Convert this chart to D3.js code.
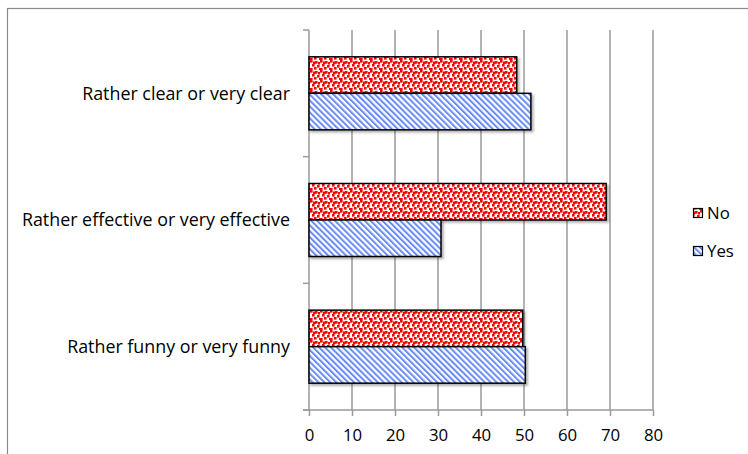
<!DOCTYPE html>
<html><head><meta charset="utf-8">
<script src="https://cdn.jsdelivr.net/npm/d3@7"></script>
<style>body{margin:0;background:#fff}svg{display:block}text{font-family:"Open Sans",sans-serif;fill:#000}</style>
</head><body>
<script>
const categories = ["Rather clear or very clear", "Rather effective or very effective", "Rather funny or very funny"];
const seriesNames = ["No", "Yes"];
const noValues = [48.3, 69.1, 49.7];
const yesValues = [51.6, 30.7, 50.3];
const xTicks = [0, 10, 20, 30, 40, 50, 60, 70, 80];

const W = 748, H = 454;
const FONT = "'Open Sans', sans-serif";
const FS_LABEL = 17.85, FS_TICK = 16.8, FS_LEG = 16.8;
const svg = d3.select("body").append("svg").attr("width", W).attr("height", H);
const defs = svg.append("defs");

// red confetti pattern
const pr = defs.append("pattern").attr("id", "pNo").attr("patternUnits", "userSpaceOnUse")
  .attr("width", 10).attr("height", 10);
pr.append("rect").attr("width", 10).attr("height", 10).attr("fill", "#fff");
[[0,0],[5,1],[2,4],[7,5],[4,7],[9,8],[0,8],[8,2],[3,1.5]].forEach(p =>
  pr.append("rect").attr("x", p[0]).attr("y", p[1]).attr("width", 2.6).attr("height", 2.6).attr("fill", "#f00"));

// blue diagonal stripes (top-left to bottom-right)
const pb = defs.append("pattern").attr("id", "pYes").attr("patternUnits", "userSpaceOnUse")
  .attr("width", 4.2).attr("height", 4.2).attr("patternTransform", "rotate(-45)");
pb.append("rect").attr("width", 4.2).attr("height", 4.2).attr("fill", "#fff");
pb.append("rect").attr("x", 0).attr("width", 2).attr("height", 4.2).attr("fill", "#6a8cf2");

const sh = defs.append("filter").attr("id", "shadow").attr("x", "-5%").attr("y", "-20%").attr("width", "110%").attr("height", "150%");
sh.append("feDropShadow").attr("dx", 2).attr("dy", 2).attr("stdDeviation", 1.2).attr("flood-color", "#000").attr("flood-opacity", 0.3);

// outer frame
svg.append("rect").attr("x", 7.5).attr("y", 8.5).attr("width", 760).attr("height", 460)
  .attr("fill", "none").attr("stroke", "#8a8a8a").attr("stroke-width", 1.2);

const x = d3.scaleLinear().domain([0, 80]).range([309, 653]);
const y = d3.scaleBand().domain(categories).range([30, 410]);
const ys = d3.scaleBand().domain(seriesNames).range([0, y.bandwidth()]).paddingOuter(0.735).paddingInner(0);

// gridlines
svg.append("g").selectAll("line").data(xTicks.slice(1)).join("line")
  .attr("x1", d => x(d)).attr("x2", d => x(d)).attr("y1", 30).attr("y2", 410)
  .attr("stroke", "#9a9a9a").attr("stroke-width", 1.5);

// x axis
const xAxis = svg.append("g").attr("transform", "translate(0,410)")
  .call(d3.axisBottom(x).tickValues(xTicks).tickSize(6).tickPadding(13).tickFormat(d3.format("d")));
xAxis.select(".domain").attr("stroke", "#9a9a9a").attr("stroke-width", 1.5).attr("d", "M303,0H653");
xAxis.selectAll(".tick line").attr("stroke", "#9a9a9a").attr("stroke-width", 1.5);
xAxis.selectAll(".tick text").attr("font-size", FS_TICK).attr("font-family", FONT).attr("fill", "#000");

// y axis
const yAxis = svg.append("g").attr("transform", "translate(309,0)");
yAxis.append("line").attr("x1", 0).attr("x2", 0).attr("y1", 30).attr("y2", 410).attr("stroke", "#9a9a9a").attr("stroke-width", 1.5);
const yBounds = categories.map(c => y(c)).concat([410]);
yAxis.selectAll(".tk").data(yBounds).join("line").attr("class", "tk")
  .attr("x1", -6).attr("x2", 0).attr("y1", d => d).attr("y2", d => d)
  .attr("stroke", "#9a9a9a").attr("stroke-width", 1.5);
svg.append("g").selectAll("text").data(categories).join("text")
  .attr("x", 290).attr("y", d => y(d) + y.bandwidth() / 2)
  .attr("dy", "0.35em").attr("text-anchor", "end").attr("font-size", FS_LABEL).text(d => d);

// bars
const rows = [];
categories.forEach((c, i) => {
  rows.push({ cat: c, s: "No", v: noValues[i] });
  rows.push({ cat: c, s: "Yes", v: yesValues[i] });
});
svg.append("g").selectAll("rect").data(rows).join("rect")
  .attr("x", x(0)).attr("y", d => y(d.cat) + ys(d.s))
  .attr("width", d => x(d.v) - x(0)).attr("height", ys.bandwidth())
  .attr("fill", d => d.s === "No" ? "url(#pNo)" : "url(#pYes)")
  .attr("stroke", "#000").attr("stroke-width", 1.5).attr("filter", "url(#shadow)");

// legend
const lg = svg.append("g");
seriesNames.forEach((s, i) => {
  const yy = 213 + i * 38;
  lg.append("rect").attr("x", 693.5).attr("y", yy - 4.5).attr("width", 9).attr("height", 9)
    .attr("fill", s === "No" ? "url(#pNo)" : "url(#pYes)").attr("stroke", "#000").attr("stroke-width", 1.2);
  lg.append("text").attr("x", 707).attr("y", yy).attr("dy", "0.35em").attr("font-size", FS_LEG).text(s);
});
</script>
</body></html>
